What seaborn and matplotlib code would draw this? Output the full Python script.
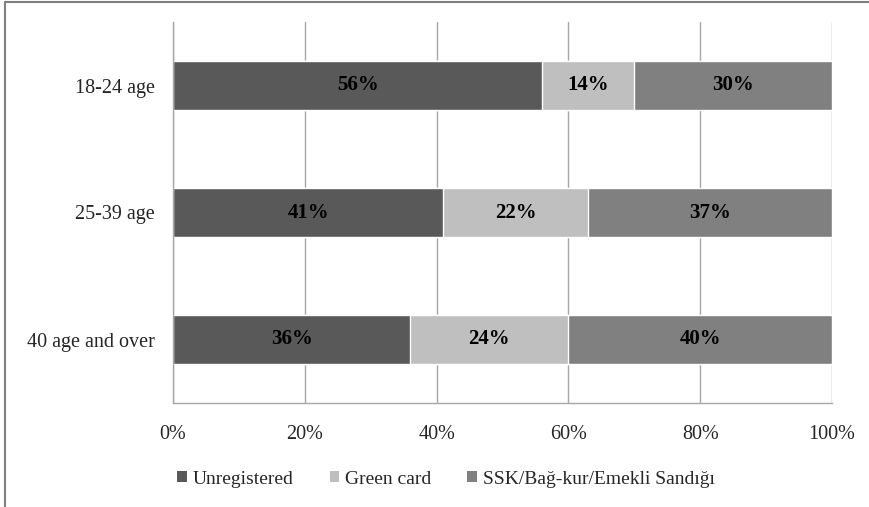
import numpy as np
import pandas as pd
import seaborn as sns
import matplotlib.pyplot as plt
from matplotlib.patches import Patch
from matplotlib.lines import Line2D

# data
groups = ["18-24 age", "25-39 age", "40 age and over"]
series = ["Unregistered", "Green card", "SSK/Bağ-kur/Emekli Sandığı"]
unregistered = [56, 41, 36]
green_card = [14, 22, 24]
ssk = [30, 37, 40]
colors = ["#595959", "#BFBFBF", "#808080"]

sns.set_style("white")
plt.rcParams['font.family'] = ['Liberation Serif', 'DejaVu Serif']

fig = plt.figure(figsize=(8.7, 5.07), dpi=100)
ax = fig.add_axes([173/870, 1 - 403/507, (832-173)/870, (403-22)/507])

vals = np.array([unregistered, green_card, ssk])
cum = vals.cumsum(axis=0)

# draw from the full stack down so each segment shows
for i in [2, 1, 0]:
    df = pd.DataFrame({"group": groups, "value": cum[i]})
    sns.barplot(data=df, x="value", y="group", orient="h", color=colors[i],
                width=0.39, saturation=1, ax=ax, zorder=2)

# labels in segments
for i in range(3):
    for j in range(len(groups)):
        left = cum[i][j] - vals[i][j]
        ax.text(left + vals[i][j] / 2, j, f"{vals[i][j]}%", ha="center", va="center",
                fontsize=15, fontweight="bold", color="black", zorder=3)

ax.set_xlim(0, 100)
ax.set_ylim(2.5, -0.5)
ax.set_xticks(np.arange(0, 101, 20))
ax.set_xticklabels([f"{v}%" for v in range(0, 101, 20)], fontsize=14.5)
ax.xaxis.grid(True, color="#A6A6A6", linewidth=1, zorder=0)
ax.set_axisbelow(True)

ax.set_yticks([-0.5, 0.5, 1.5, 2.5])
ax.set_yticklabels([])
ax.set_yticks(range(3), minor=True)
ax.set_yticklabels(groups, minor=True, fontsize=14.5)
ax.tick_params(axis="y", which="minor", length=0, pad=13)
ax.tick_params(axis="y", which="major", length=6, color="#A6A6A6", width=1)
ax.tick_params(axis="x", length=6, color="#A6A6A6", width=1, pad=10)
ax.set_xlabel("")
ax.set_ylabel("")

for s in ["top", "right"]:
    ax.spines[s].set_visible(False)
for s in ["left", "bottom"]:
    ax.spines[s].set_color("#A6A6A6")
    ax.spines[s].set_linewidth(1)

handles = [Patch(facecolor=c, edgecolor="none") for c in colors]
fig.legend(handles, series, loc="center", bbox_to_anchor=(446/870, 1 - 479/507),
           ncol=3, frameon=False, fontsize=14, handlelength=0.5, handleheight=0.5,
           handletextpad=0.3, columnspacing=1.85)

# outer frame (top and left visible)
fig.add_artist(Line2D([5/870, 1], [1 - 2/507, 1 - 2/507], transform=fig.transFigure,
                      color="#808080", linewidth=1.5))
fig.add_artist(Line2D([5/870, 5/870], [0, 1 - 2/507], transform=fig.transFigure,
                      color="#808080", linewidth=1.5))

fig.savefig("out.png", dpi=100)
